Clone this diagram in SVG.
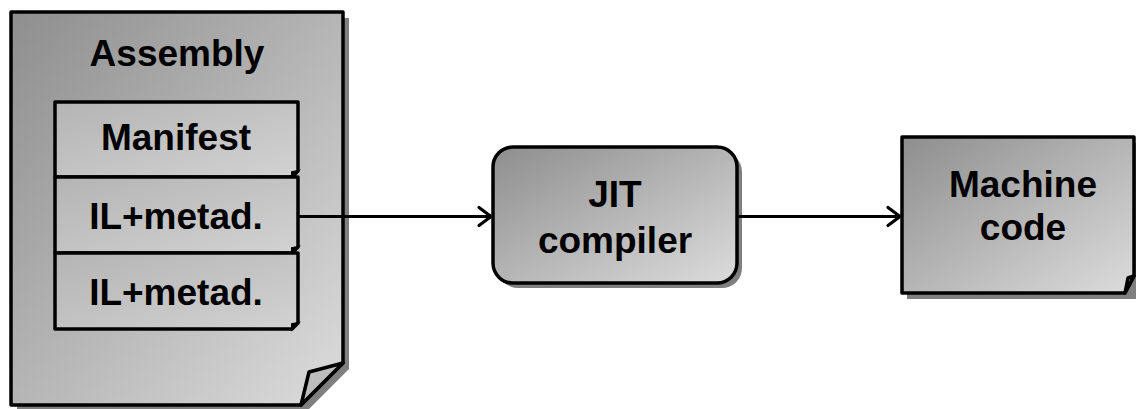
<svg xmlns="http://www.w3.org/2000/svg" width="1136" height="409" viewBox="0 0 1136 409">
<defs>
<linearGradient id="g" x1="0" y1="0" x2="1" y2="1">
<stop offset="0" stop-color="#8e8e8e"/>
<stop offset="1" stop-color="#dcdcdc"/>
</linearGradient>
<linearGradient id="gi" x1="0" y1="0" x2="1" y2="1">
<stop offset="0" stop-color="#b4b4b4"/>
<stop offset="1" stop-color="#d2d2d2"/>
</linearGradient>
<marker id="arr" markerWidth="20" markerHeight="24" refX="17" refY="12" orient="auto" markerUnits="userSpaceOnUse">
<path d="M5,3 L17,12 L5,21" fill="none" stroke="#000" stroke-width="3.2" stroke-linecap="round" stroke-linejoin="round"/>
</marker>
</defs>
<style>
.sh{fill:#7f7f7f}
.bx{stroke:#000;stroke-width:3.5;stroke-linejoin:round}
.t{font-family:"Liberation Sans",Arial,sans-serif;font-weight:bold;font-size:37px;fill:#000;text-anchor:middle}
.fold{fill:#bdbdbd;stroke:#000;stroke-width:3.5;stroke-linejoin:round}
.ln{stroke:#000;stroke-width:3.2;fill:none}
</style>
<g id="assembly">
<path class="sh" d="M17,18 H349 V369 L307,411 H17 Z"/>
<path class="bx" fill="url(#g)" d="M11,12 H343 V363 L301,405 H11 Z"/>
<path class="fold" d="M343,363 L309,372 L301,405 Z"/>
<text class="t" x="177" y="66">Assembly</text>
</g>
<g id="manifest">
<path class="bx" fill="url(#gi)" d="M55,102 H298 V171 L292,177 H55 Z"/>
<path d="M298,171 L292,172 L292,177 Z" fill="#000" stroke="#000" stroke-width="2"/>
<text class="t" x="176" y="150">Manifest</text>
</g>
<g id="il1">
<path class="bx" fill="url(#gi)" d="M55,177 H298 V247 L292,253 H55 Z"/>
<path d="M298,247 L292,248 L292,253 Z" fill="#000" stroke="#000" stroke-width="2"/>
<text class="t" x="176" y="229">IL+metad.</text>
</g>
<g id="il2">
<path class="bx" fill="url(#gi)" d="M55,253 H298 V323 L292,329 H55 Z"/>
<path d="M298,323 L292,324 L292,329 Z" fill="#000" stroke="#000" stroke-width="2"/>
<text class="t" x="176" y="305">IL+metad.</text>
</g>
<g id="jit">
<rect class="sh" x="498" y="152" width="244" height="136" rx="20"/>
<rect class="bx" fill="url(#g)" x="493" y="147" width="244" height="136" rx="20"/>
<text class="t" x="615" y="207">JIT</text>
<text class="t" x="615" y="253">compiler</text>
</g>
<g id="machine">
<path class="sh" d="M907,143 H1140 V299 H907 Z"/>
<path class="bx" fill="url(#g)" d="M902,137 H1134 V276 L1125,293 H902 Z"/>
<path class="fold" d="M1134,276 L1128,278 L1125,293 Z"/>
<text class="t" x="1023" y="197">Machine</text>
<text class="t" x="1023" y="240">code</text>
</g>
<g id="connectors">
<path class="ln" d="M298,216.5 H491" marker-end="url(#arr)"/>
<path class="ln" d="M737,216.5 H900" marker-end="url(#arr)"/>
</g>
</svg>
